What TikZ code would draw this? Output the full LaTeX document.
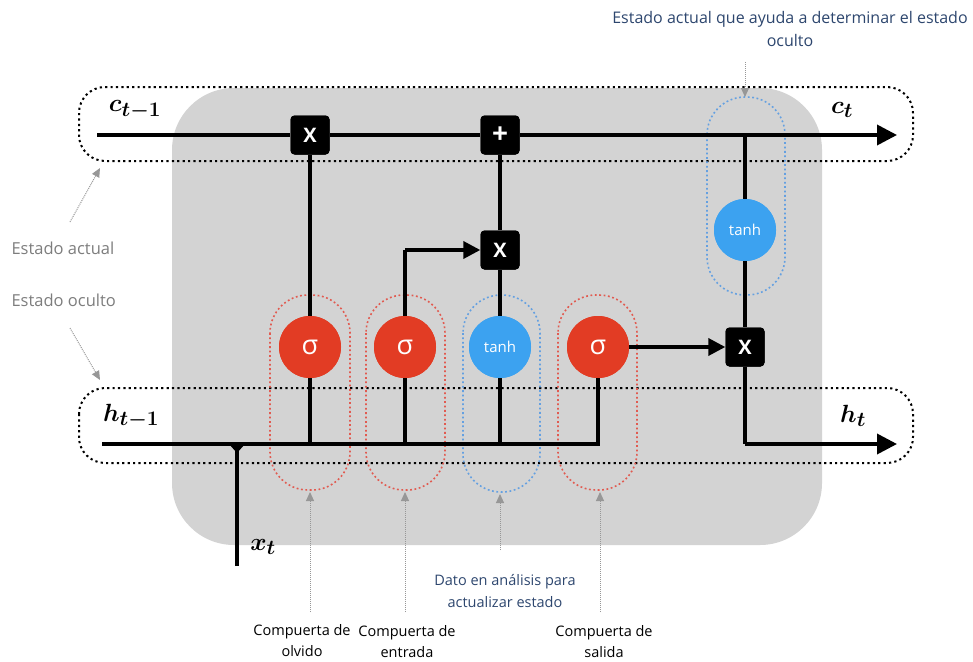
\documentclass[tikz,border=0pt]{standalone}
\usepackage{fontspec}
\setmainfont{Open Sans}
\usetikzlibrary{arrows.meta}
\definecolor{cellgray}{RGB}{211,211,211}
\definecolor{sigred}{RGB}{226,60,36}
\definecolor{tanhblue}{RGB}{60,162,240}
\definecolor{notegray}{RGB}{125,125,125}
\definecolor{noteblue}{RGB}{45,70,110}
\definecolor{capred}{RGB}{225,90,80}
\definecolor{capblue}{RGB}{100,160,225}
\tikzset{
  wire/.style={line width=3.6pt},
  wirearrow/.style={line width=3.6pt,-{Triangle[length=20pt,width=20pt]}},
  smallarrow/.style={line width=3.6pt,-{Triangle[length=17pt,width=17pt]}},
  opbox/.style={fill=black,rounded corners=4pt,minimum size=39pt,inner sep=0pt,text=white,font=\fontsize{20}{20}\bfseries},
  plusbox/.style={opbox,font=\fontsize{28}{28}\bfseries},
  sigmanode/.style={circle,fill=sigred,minimum size=62pt,inner sep=0pt,text=white,font=\fontsize{27}{27}\selectfont},
  tanhnode/.style={circle,fill=tanhblue,minimum size=62pt,inner sep=0pt,text=white,font=\fontsize{15}{15}\selectfont},
  statebox/.style={dash pattern=on 2.2pt off 3.2pt,line width=2pt,rounded corners=26pt},
  capsule/.style={dash pattern=on 1.8pt off 2.6pt,line width=1.6pt,rounded corners=38pt},
  notearrow/.style={densely dotted,line width=1pt,draw=notegray!80,-{Triangle[length=9pt,width=8pt]},shorten >=0pt},
  mathlabel/.style={font=\fontsize{31}{34}\selectfont\boldmath},
  note/.style={text=notegray,font=\fontsize{16.5}{20}\selectfont,align=center},
  bluenote/.style={text=noteblue,font=\fontsize{16}{24}\selectfont,align=center},
  gatenote/.style={text=black,font=\fontsize{14.5}{21}\selectfont,align=center,fill=white,inner sep=1pt}
}
\begin{document}
\begin{tikzpicture}[x=1pt,y=-1pt]
\useasboundingbox (0,0) rectangle (973,661);
% cell body
\fill[cellgray,rounded corners=62pt] (172,88) rectangle (822,545);

% state bands
\draw[statebox] (79,87) rectangle (913,161);
\draw[statebox] (79,388) rectangle (913,463);

% gate capsules
\draw[capsule,draw=capred] (270,295) rectangle (350,490);
\draw[capsule,draw=capred] (366,295) rectangle (445,490);
\draw[capsule,draw=capblue] (463,295) rectangle (540,492);
\draw[capsule,draw=capred] (558,295) rectangle (637,490);
\draw[capsule,draw=capblue] (707,97) rectangle (785,295);

% operators and activations
\node[opbox] (mf) at (310,135) {X};
\node[plusbox] (add) at (500,135) {+};
\node[opbox] (mi) at (500,250) {X};
\node[opbox] (mo) at (745,347) {X};
\node[sigmanode] (sf) at (310,347) {σ};
\node[sigmanode] (si) at (405,347) {σ};
\node[tanhnode] (tg) at (500,347) {tanh};
\node[sigmanode] (so) at (598,347) {σ};
\node[tanhnode] (tc) at (745,230) {tanh};

% coordinates on the wires
\coordinate (cin) at (97,135);
\coordinate (cout) at (897,135);
\coordinate (hin) at (102,444);
\coordinate (hout) at (897,444);
\coordinate (xin) at (237,566);
\coordinate (xj) at (237,444);
\coordinate (hf) at (310,444);
\coordinate (hi) at (405,444);
\coordinate (hg) at (500,444);
\coordinate (ho) at (598,444);
\coordinate (hc) at (745,444);
\coordinate (ib) at (405,250);
\coordinate (ct) at (745,135);

% cell state
\draw[wire] (cin) -- (mf) -- (add);
\draw[wirearrow] (add) -- (cout);
% hidden state input and gate feeds
\draw[wire] (hin) -- (ho) -- (so);
\draw[wire] (xin) -- (xj);
\fill (229,444) -- (245,444) -- (237,453) -- cycle;
\draw[wire] (hf) -- (sf) -- (mf);
\draw[wire] (hg) -- (tg) -- (mi) -- (add);
\draw[wire] (hi) -- (si) -- (ib);
\draw[smallarrow] (ib) -- (mi.west);
\draw[smallarrow] (so) -- (mo.west);
% output path
\draw[wire] (ct) -- (tc) -- (mo) -- (hc);
\draw[wirearrow] (hc) -- (hout);

% redraw nodes above the wires
\node[opbox] at (mf) {X};
\node[plusbox] at (add) {+};
\node[opbox] at (mi) {X};
\node[opbox] at (mo) {X};
\node[sigmanode] at (sf) {σ};
\node[sigmanode] at (si) {σ};
\node[tanhnode] at (tg) {tanh};
\node[sigmanode] at (so) {σ};
\node[tanhnode] at (tc) {tanh};

% state labels
\node[mathlabel] (lc0) at (135,110) {$c_{t-1}$};
\node[mathlabel] (lc1) at (842,110) {$c_t$};
\node[mathlabel] (lh0) at (131,416) {$h_{t-1}$};
\node[mathlabel] (lh1) at (853,416) {$h_t$};
\node[mathlabel] (lx) at (263,547) {$x_t$};

% side notes
\node[note,anchor=west] (nact) at (8,248) {Estado actual};
\node[note,anchor=west] (nocu) at (8,300) {Estado oculto};
\coordinate (a1s) at (70,222);
\coordinate (a1e) at (100,168);
\coordinate (a2s) at (70,328);
\coordinate (a2e) at (100,380);
\draw[notearrow] (a1s) -- (a1e);
\draw[notearrow] (a2s) -- (a2e);

% top note
\node[bluenote] (ntop) at (790,29) {Estado actual que ayuda a determinar el estado\\oculto};
\coordinate (a3s) at (745,62);
\coordinate (a3e) at (745,97);
\draw[notearrow] (a3s) -- (a3e);

% bottom notes
\coordinate (b1s) at (310,612); \coordinate (b1e) at (310,492);
\coordinate (b2s) at (405,612); \coordinate (b2e) at (405,492);
\coordinate (b3s) at (500,550); \coordinate (b3e) at (500,494);
\coordinate (b4s) at (600,612); \coordinate (b4e) at (600,492);
\draw[notearrow] (b1s) -- (b1e);
\draw[notearrow] (b2s) -- (b2e);
\draw[notearrow] (b3s) -- (b3e);
\draw[notearrow] (b4s) -- (b4e);

\node[gatenote] (g1) at (302,641) {Compuerta de\\olvido};
\node[gatenote] (g2) at (407,642) {Compuerta de\\entrada};
\node[gatenote] (g4) at (604,642) {Compuerta de\\salida};
\node[bluenote,font=\fontsize{14.5}{22}\selectfont] (gdat) at (505,591) {Dato en análisis para\\actualizar estado};
\end{tikzpicture}
\end{document}
